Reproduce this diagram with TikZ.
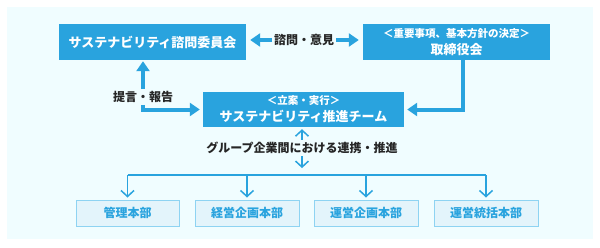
\documentclass[tikz,border=0pt]{standalone}
\usepackage{fontspec}
\setmainfont{Noto Sans CJK JP}
\usepackage{xcolor}
\usepackage{tikz}
\usetikzlibrary{arrows.meta, positioning}

\definecolor{sblue}{HTML}{29A3DE}
\definecolor{bgcyan}{HTML}{F0FDFF}
\definecolor{deptfill}{HTML}{E3F4FB}
\definecolor{deptline}{HTML}{8ED3F2}

\begin{document}
\begin{tikzpicture}[x=1pt, y=-1pt,
    mainbox/.style={fill=sblue, text=white, inner sep=0pt, align=center,
        font=\bfseries\fontsize{13}{17}\selectfont},
    deptbox/.style={fill=deptfill, draw=deptline, line width=1pt, text=sblue,
        minimum width=103pt, minimum height=26pt, inner sep=0pt,
        font=\bfseries\fontsize{12}{14}\selectfont},
    lbl/.style={text=black!85, inner sep=2pt, font=\bfseries\fontsize{12}{14}\selectfont},
    bigarrow/.style={sblue, line width=4pt, -{Triangle[length=10pt,width=13pt]}},
    thinarrow/.style={sblue, line width=1.5pt, -{Straight Barb[length=6pt,width=13pt]}}]
    \useasboundingbox (0,0) rectangle (600,247);
    % 1. Hintergrund
    \fill[bgcyan] (7,7) rectangle (593,239);

    % 2. Obere Kästen
    \node[mainbox, minimum width=187pt, minimum height=36pt] (committee) at (152.5,42)
        {サステナビリティ諮問委員会};
    \node[mainbox, minimum width=187pt, minimum height=36pt] (board) at (456.5,42)
        {{\fontsize{10.5}{12}\selectfont ＜重要事項、基本方針の決定＞}\\取締役会};
    \node[mainbox, minimum width=201pt, minimum height=35pt] (team) at (303.5,109.5)
        {{\fontsize{10.5}{12}\selectfont ＜立案・実行＞}\\サステナビリティ推進チーム};

    % 3. Untere Kästen
    \node[deptbox] (kanri) at (127.5,213) {管理本部};
    \node[deptbox, minimum width=104pt] (keiei) at (247,213) {経営企画本部};
    \node[deptbox, minimum width=104pt] (unei) at (366,213) {運営企画本部};
    \node[deptbox, minimum width=104pt] (toukatsu) at (486,213) {運営統括本部};

    % 4. Beschriftungen
    \node[lbl] (consult) at (304,40) {諮問・意見};
    \node[lbl] (report) at (143,97) {提言・報告};
    \node[lbl] (coop) at (302,148) {グループ企業間における連携・推進};
    \coordinate (bus) at (0,175);

    % 5. Dicke Pfeile
    \draw[bigarrow, shorten >=4pt] (consult.west) -- (consult.west -| committee.east);
    \draw[bigarrow, shorten >=4pt] (consult.east) -- (consult.east -| board.west);
    \draw[bigarrow, shorten >=1pt] (report.north) -- (report.north |- committee.south);
    \draw[bigarrow, shorten >=3pt] (report.south) |- (team.west);
    \draw[bigarrow, shorten >=3pt] ([xshift=6.5pt]board.south) |- (team.east);

    % 6. Dünne Pfeile
    \draw[thinarrow, shorten >=2pt] (coop.north) -- (coop.north |- team.south);
    \draw[thinarrow] (coop.south) -- ++(0,12);
    \draw[sblue, line width=1.5pt] (kanri.north |- bus) -- (toukatsu.north |- bus);
    \foreach \n in {kanri, keiei, unei, toukatsu}
        \draw[thinarrow, shorten >=2pt] (\n.north |- bus) -- (\n.north);

\end{tikzpicture}
\end{document}
